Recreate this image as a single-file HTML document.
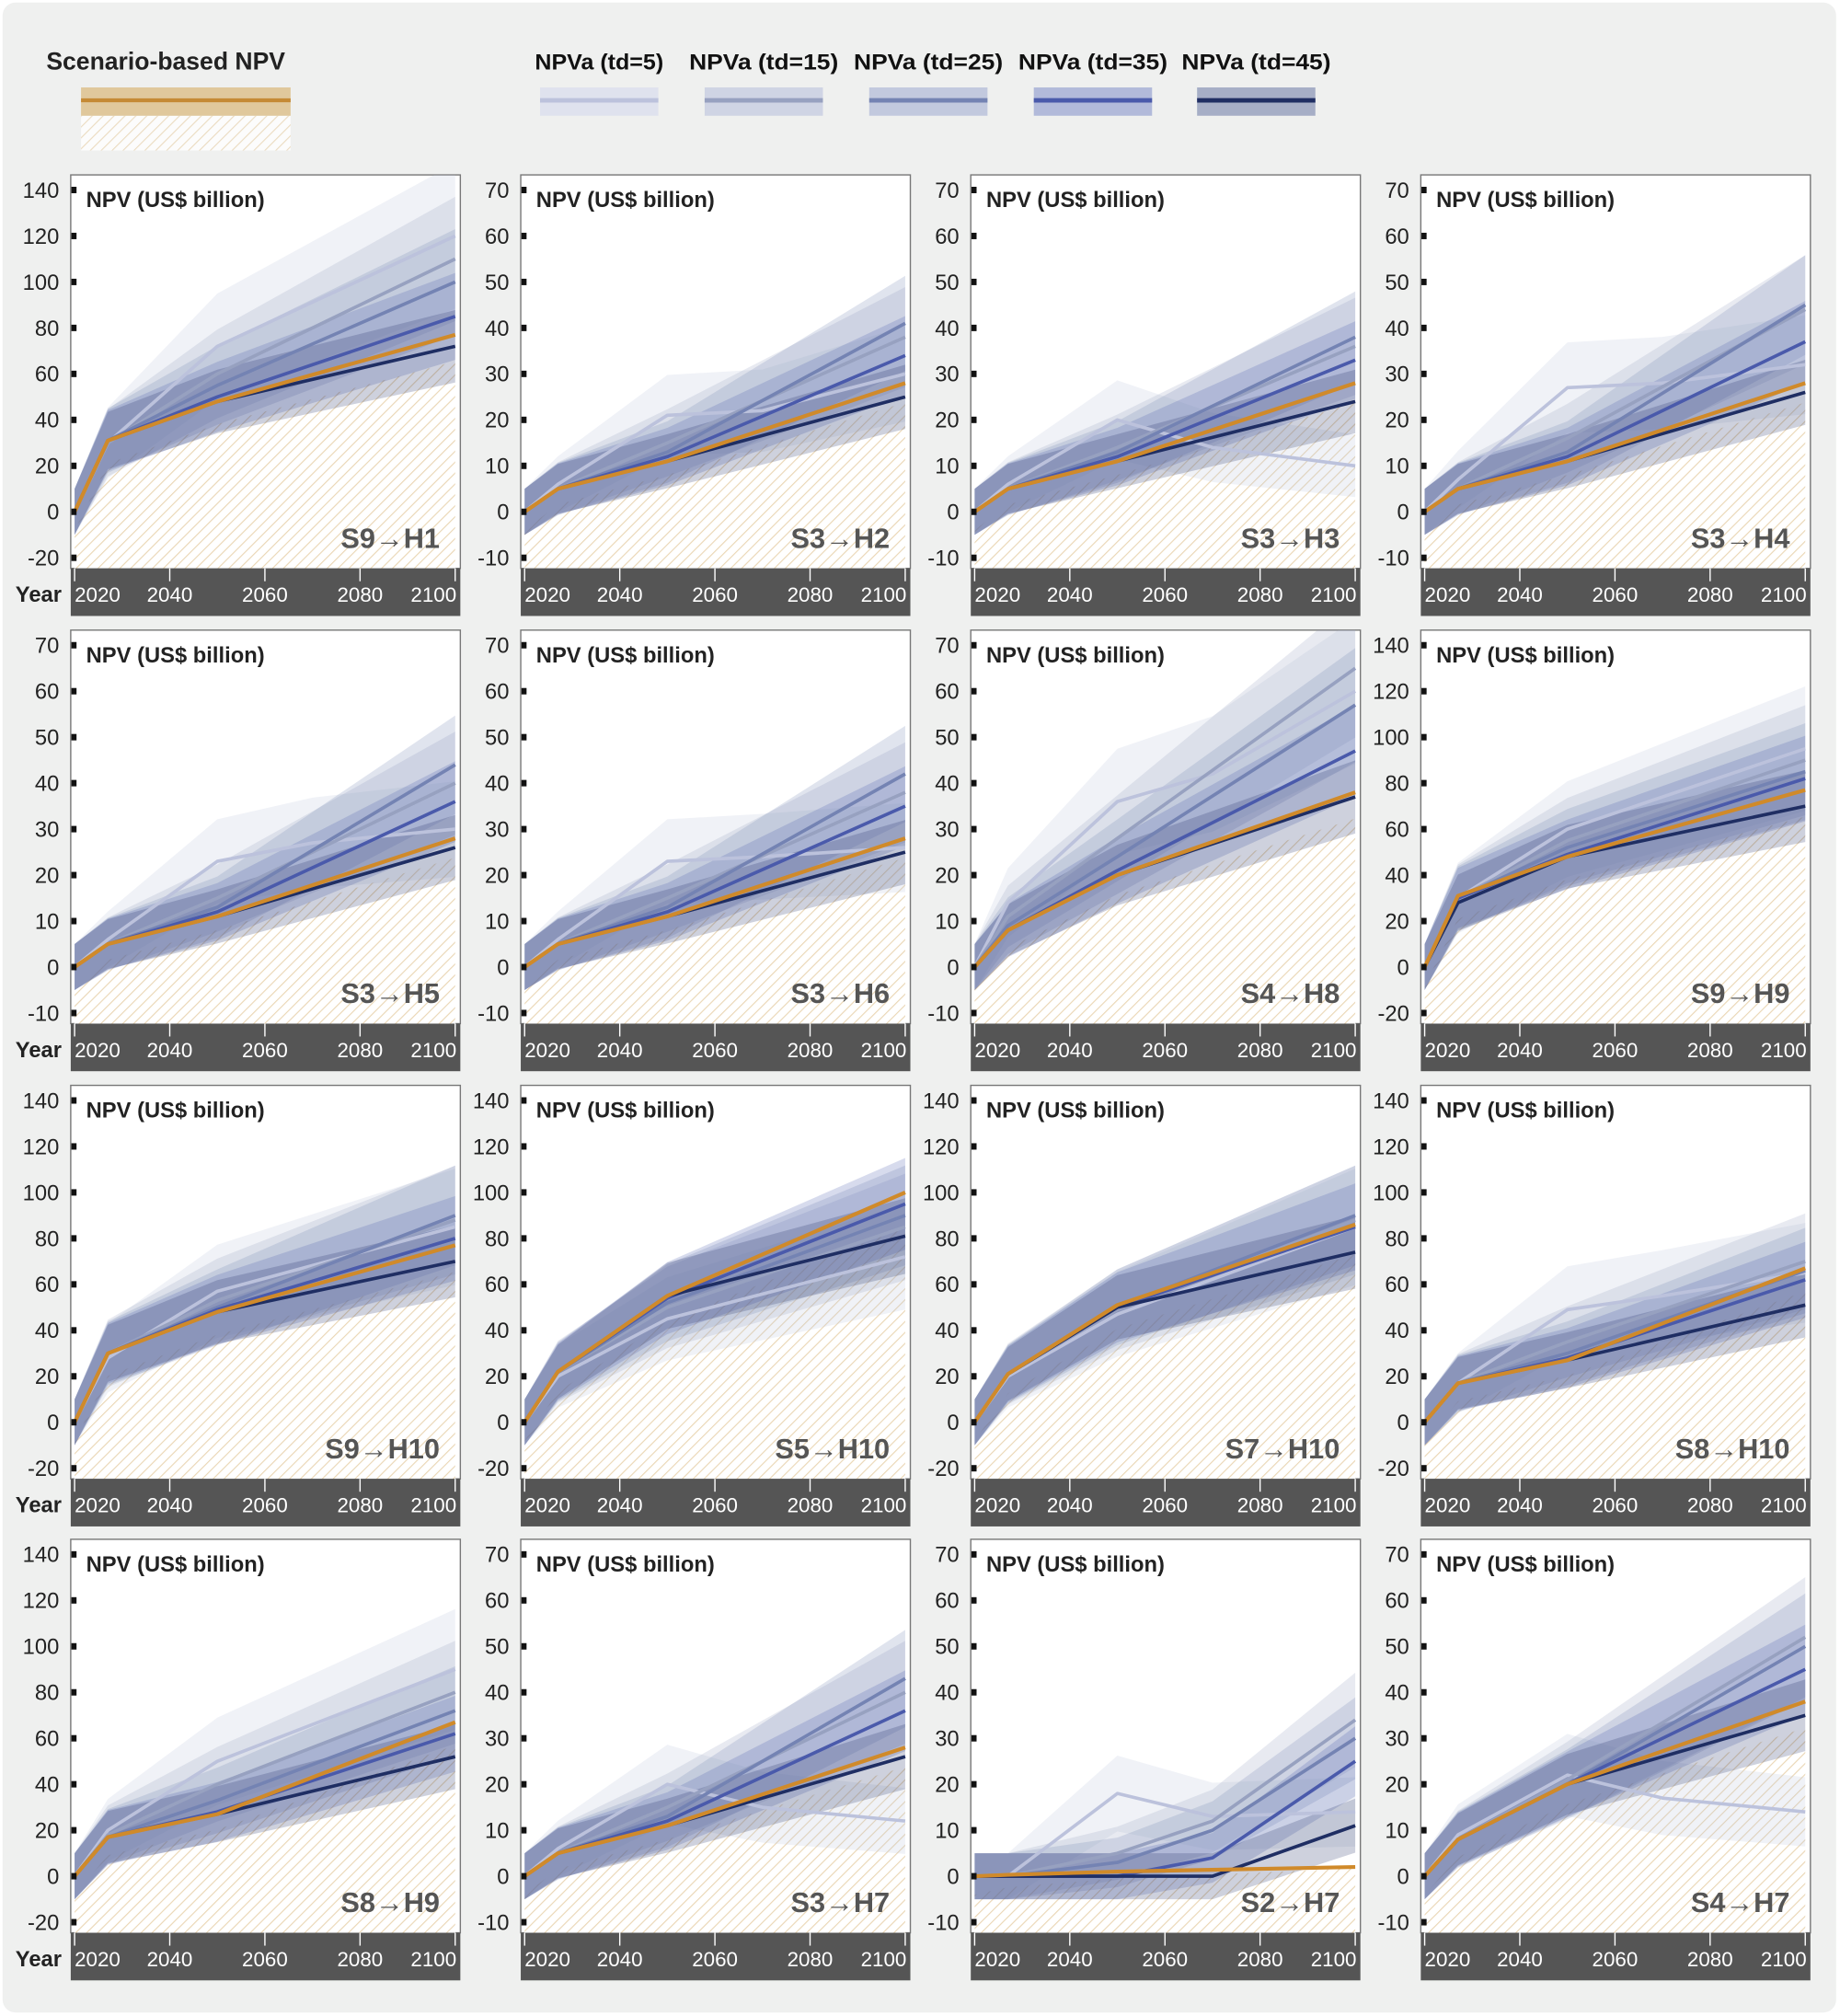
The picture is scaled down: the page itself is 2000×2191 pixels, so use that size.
<!DOCTYPE html>
<html><head><meta charset="utf-8"><style>
html,body{margin:0;padding:0;background:#fff;overflow:hidden}
svg{display:block}
text{font-family:"Liberation Sans",Arial,sans-serif}
</style></head><body>
<svg id="s" width="2000" height="2191" viewBox="0 0 1431 1567.7" xmlns="http://www.w3.org/2000/svg">
<defs>
<pattern id="h" patternUnits="userSpaceOnUse" width="6" height="6" patternTransform="rotate(45)">
<rect width="6" height="6" fill="#fff"/>
<line x1="0" y1="0" x2="0" y2="6" stroke="#ead6b4" stroke-width="1.6"/>
</pattern>
</defs>
<rect x="2" y="2" width="1426" height="1563" rx="10" fill="#eff0ef"/>
<text x="36" y="54" font-size="19" font-weight="bold" fill="#222">Scenario-based NPV</text>
<rect x="63" y="90" width="163" height="27" fill="url(#h)" opacity="0.8"/>
<rect x="63" y="68" width="163" height="22" fill="#e0c89c"/>
<line x1="63" y1="78" x2="226" y2="78" stroke="#c58a35" stroke-width="3"/>
<g id="leg"></g>
<g id="panels"></g>
</svg>
<script>
const NS="http://www.w3.org/2000/svg";
function el(t,a,p){const e=document.createElementNS(NS,t);for(const k in a)e.setAttribute(k,a[k]);p.appendChild(e);return e;}
const bandC=["#dfe2ee","#cfd4e4","#c2c9de","#b2bada","#a6aec6"];
const lineC=["#bcc2dc","#97a1c0","#7483b3","#4a5aab","#1f2e63"];
const leg=document.getElementById("leg");
const lx=[420,548,676,804,931],names=["NPVa (td=5)","NPVa (td=15)","NPVa (td=25)","NPVa (td=35)","NPVa (td=45)"];
for(let i=0;i<5;i++){
  const t=el("text",{x:lx[i]+46,y:54,"font-size":17,"font-weight":"bold","text-anchor":"middle",fill:"#111",textLength:i?116:100,lengthAdjust:"spacingAndGlyphs"},leg);t.textContent=names[i];
  el("rect",{x:lx[i],y:68,width:92,height:22,fill:bandC[i]},leg);
  el("line",{x1:lx[i],y1:78,x2:lx[i]+92,y2:78,stroke:lineC[i],"stroke-width":3.5},leg);
}
const P=[
 ["S9→H1",140,[0,31,48,77],[[0,30,72,120],[0,30,60,110],[0,31,55,100],[0,31,50,85],[0,31,48,72]]],
 ["S3→H2",70,[0,5,11,28],[[0,6,21,22,30],[0,5,15,38],[0,5,13,41],[0,5,12,34],[0,5,11,25]]],
 ["S3→H3",70,[0,5,11,28],[[0,6,20,14,10],[0,5,14,36],[0,5,13,38],[0,5,12,33],[0,5,11,24]]],
 ["S3→H4",70,[0,5,11,28],[[0,7,27,28,32],[0,5,16,44],[0,5,13,45],[0,5,12,37],[0,5,11,26]]],
 ["S3→H5",70,[0,5,11,28],[[0,6,23,27,30],[0,5,15,40],[0,5,13,44],[0,5,12,36],[0,5,11,26]]],
 ["S3→H6",70,[0,5,11,28],[[0,6,23,24,26],[0,5,15,38],[0,5,13,42],[0,5,12,35],[0,5,11,25]]],
 ["S4→H8",70,[0,8,20,38],[[0,14,36,42,60],[0,11,28,65],[0,9,24,57],[0,8,21,47],[0,8,20,37]]],
 ["S9→H9",140,[0,31,48,77],[[0,30,60,95],[0,30,55,90],[0,30,52,85],[0,30,49,82],[0,28,48,70]]],
 ["S9→H10",140,[0,30,48,77],[[0,28,57,85],[0,30,53,88],[0,30,50,90],[0,30,49,80],[0,30,48,70]]],
 ["S5→H10",140,[0,22,55,100],[[0,20,45,72],[0,22,50,85],[0,22,52,90],[0,22,54,95],[0,22,55,81]]],
 ["S7→H10",140,[0,21,51,86],[[0,20,47,85],[0,21,49,88],[0,21,50,90],[0,21,50,85],[0,21,50,74]]],
 ["S8→H10",140,[0,17,27,67],[[0,17,49,55,65],[0,17,35,70],[0,17,30,66],[0,17,28,62],[0,17,27,51]]],
 ["S8→H9",140,[0,17,27,67],[[0,20,50,90],[0,18,40,80],[0,17,33,72],[0,17,28,62],[0,17,27,52]]],
 ["S3→H7",70,[0,5,11,28],[[0,6,20,15,12],[0,5,15,40],[0,5,13,43],[0,5,12,36],[0,5,11,26]]],
 ["S2→H7",70,[0,0.3,1,2],[[0,0,18,13,14],[0,0,5,12,34],[0,0,3,10,30],[0,0,0,4,25],[0,0,0,0,11]]],
 ["S4→H7",70,[0,8,20,38],[[0,9,22,17,14],[0,8,21,52],[0,8,20,50],[0,8,20,45],[0,8,20,35]]]
];
const colX=[55,405,755,1105],rowY=[136,490,844,1197];
const root=document.getElementById("panels");
P.forEach((p,idx)=>{
  const c=idx%4,r=Math.floor(idx/4);
  const L=colX[c],T=rowY[r],W=303,B=T+306,D=B+37;
  const s=p[1],u=(s==140?1.7875:3.575);
  const y0=T+262;
  const X=yr=>L+3+(yr-2020)*3.7, Y=v=>y0-v*u;
  const yrs=a=>a.length==4?[2020,2027,2050,2100]:[2020,2027,2050,2070,2100];
  const g=el("g",{},root);
  el("rect",{x:L,y:T,width:W,height:B-T,fill:"#fff",stroke:"#777","stroke-width":1},g);
  const clip=el("clipPath",{id:"c"+idx},g);el("rect",{x:L,y:T,width:W,height:B-T},clip);
  const pg=el("g",{"clip-path":"url(#c"+idx+")"},g);
  const o=p[2],oy=yrs(o);
  let d="M"+X(2020)+","+B;
  o.forEach((v,i)=>{d+=" L"+X(oy[i])+","+Y(v*0.85-(s==140?8:4)*(1-i/(o.length-1)))});
  d+=" L"+X(2100)+","+B+"Z";
  el("path",{d:d,fill:"url(#h)"},pg);
  const a=s==140?10:5;
  p[3].forEach((arr,k)=>{
    const ys=yrs(arr);const w=0.18-k*0.025;
    let up=[],lo=[];
    arr.forEach((v,i)=>{up.push(X(ys[i])+","+Y(v*(1+w)+a));lo.unshift(X(ys[i])+","+Y(v*(1-w)-a));});
    el("polygon",{points:up.concat(lo).join(" "),fill:lineC[k],"fill-opacity":0.22},pg);
  });
  p[3].forEach((arr,k)=>{
    const ys=yrs(arr);
    el("polyline",{points:arr.map((v,i)=>X(ys[i])+","+Y(v)).join(" "),fill:"none",stroke:lineC[k],"stroke-width":2.6,"stroke-linejoin":"round"},pg);
  });
  el("polyline",{points:o.map((v,i)=>X(oy[i])+","+Y(v)).join(" "),fill:"none",stroke:"#d08a2a","stroke-width":3,"stroke-linejoin":"round"},pg);
  let t=el("text",{x:L+12,y:T+25,"font-size":17,"font-weight":"bold",fill:"#222"},g);t.textContent="NPV (US$ billion)";
  t=el("text",{x:L+W-16,y:T+290,"font-size":22,"font-weight":"bold",fill:"#555","text-anchor":"end"},g);t.textContent=p[0];
  const step=s==140?20:10;
  for(let v=-step;v<=s;v+=step){
    const yy=Y(v);
    el("rect",{x:L+0.5,y:yy-2.5,width:4,height:5,fill:"#111"},g);
    t=el("text",{x:L-9,y:yy+6,"font-size":17,fill:"#222","text-anchor":"end"},g);t.textContent=v;
  }
  el("rect",{x:L,y:B,width:W,height:D-B,fill:"#555"},g);
  [2020,2040,2060,2080,2100].forEach((yr,i)=>{
    const xx=X(yr);
    el("line",{x1:xx,y1:B,x2:xx,y2:B+10,stroke:"#fff","stroke-width":1},g);
    t=el("text",{x:i==4?xx+1:xx,y:B+26,"font-size":16,fill:"#fff","text-anchor":i==0?"start":(i==4?"end":"middle")},g);t.textContent=yr;
  });
  if(c==0){t=el("text",{x:12,y:B+26,"font-size":17,"font-weight":"bold",fill:"#222"},g);t.textContent="Year";}
});
</script>
</body></html>
